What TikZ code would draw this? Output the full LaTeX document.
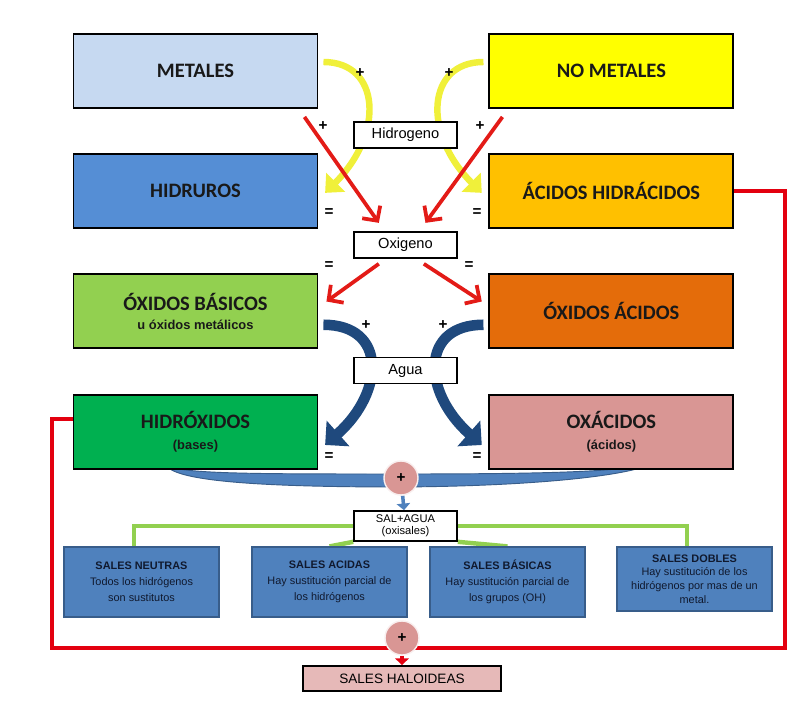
\documentclass[tikz,border=0pt]{standalone}
\usepackage{fontspec}
\setmainfont{Liberation Sans}
\newfontfamily\calib{Carlito}
\usepackage{tikz}
\usetikzlibrary{positioning,arrows.meta,backgrounds}
\definecolor{MetLight}{HTML}{C6D9F1}
\definecolor{NoMetYellow}{HTML}{FFFF00}
\definecolor{HidBlue}{HTML}{558ED5}
\definecolor{HidAcid}{HTML}{FFC000}
\definecolor{OxBas}{HTML}{92D050}
\definecolor{OxAcid}{HTML}{E46C0A}
\definecolor{HidrGreen}{HTML}{00B050}
\definecolor{OxacPink}{HTML}{D99694}
\definecolor{SalBlue}{HTML}{4F81BD}
\definecolor{SalEdge}{HTML}{385D8A}
\definecolor{SalText}{HTML}{10192E}
\definecolor{SalGreen}{HTML}{92D050}
\definecolor{HalPink}{HTML}{E6B9B8}
\definecolor{ArrRed}{HTML}{E31B17}
\definecolor{LoopRed}{HTML}{E3000F}
\definecolor{ArrYellow}{HTML}{F0F03A}
\definecolor{ArrNavy}{HTML}{1F497D}
\newcommand{\boxsub}{\normalfont\bfseries\fontsize{11}{13}\selectfont}

\begin{document}
\begin{tikzpicture}[x=0.03cm, y=-0.03cm, node distance=1.33cm and 5.1cm, every node/.style={font=\small}, big/.style={draw=black, line width=1.6pt, minimum width=7.32cm, minimum height=2.22cm, align=center, text=black!90, font=\calib\bfseries\fontsize{17.5}{20}\selectfont}, tag/.style={draw=black, line width=1.4pt, fill=white, minimum width=3.09cm, minimum height=0.78cm, font=\fontsize{12.5}{14}\selectfont}, sal/.style={draw=SalEdge, line width=1pt, fill=SalBlue, minimum width=4.65cm, minimum height=2.1cm, align=center, text=SalText, font=\fontsize{9.3}{13.5}\selectfont}, pluscirc/.style={circle, fill=OxacPink, draw=white!85!OxacPink, line width=1.2pt, minimum size=1.02cm, font=\bfseries\fontsize{13}{15}\selectfont}, sign/.style={font=\bfseries\fontsize{13}{15}\selectfont}, rarr/.style={draw=ArrRed, line width=3.2pt, -{Straight Barb[length=0.32cm,width=0.66cm]}}, yarr/.style={draw=ArrYellow, line width=5.5pt, -{Triangle[length=0.45cm,width=0.78cm]}}, barr/.style={draw=ArrNavy, line width=9pt, -{Triangle[length=0.52cm,width=1cm]}}, rline/.style={draw=LoopRed, line width=3.6pt}, gline/.style={draw=SalGreen, line width=3.8pt}]
\useasboundingbox (0,0) rectangle (810,703);
% main boxes
\node[big, fill=MetLight] (met) at (195.5,71) {METALES};
\node[big, fill=NoMetYellow, right=of met] (nomet) {NO METALES};
\node[big, fill=HidBlue, below=of met] (hid) {HIDRUROS};
\node[big, fill=HidAcid, below=of nomet] (hac) {ÁCIDOS HIDRÁCIDOS};
\node[big, fill=OxBas, below=of hid] (oxb) {ÓXIDOS BÁSICOS\\[-3pt]{\boxsub u óxidos metálicos}};
\node[big, fill=OxAcid, below=of hac] (oxa) {ÓXIDOS ÁCIDOS};
\node[big, fill=HidrGreen, below=of oxb] (hdx) {HIDRÓXIDOS\\[-2pt]{\boxsub (bases)}};
\node[big, fill=OxacPink, below=of oxa] (oxc) {OXÁCIDOS\\[-2pt]{\boxsub (ácidos)}};
% reagents
\node[tag] (hidro) at (405.5,135) {Hidrogeno};
\node[tag] (oxi) at (405.5,245) {Oxigeno};
\node[tag] (agua) at (405.5,370.5) {Agua};
\node[tag, minimum height=0.9cm, align=center, inner sep=1pt, font=\fontsize{9.5}{10.5}\selectfont] (salag) at (405.5,526) {SAL+AGUA\\(oxisales)};
\node[pluscirc] (c1) at (401,478) {+};
\node[pluscirc] (c2) at (402,638) {+};
% salts
\node[sal] (neu) at (141.5,582) {\textbf{SALES NEUTRAS}\\Todos los hidrógenos\\son sustitutos};
\node[sal] (aci) at (329.5,582) {\textbf{SALES ACIDAS}\\Hay sustitución parcial de\\los hidrógenos};
\node[sal] (bas) at (507.5,582) {\textbf{SALES BÁSICAS}\\Hay sustitución parcial de\\los grupos (OH)};
\node[sal, minimum height=1.92cm, font=\fontsize{9.3}{11.7}\selectfont] (dob) at (694.5,579) {\textbf{SALES DOBLES}\\Hay sustitución de los\\hidrógenos por mas de un\\metal.};
\node[draw=black, line width=1.5pt, fill=HalPink, minimum width=5.94cm, minimum height=0.75cm, font=\fontsize{11.6}{13}\selectfont] (hal) at (402,678.5) {SALES HALOIDEAS};
\coordinate (lb) at (52,648);
\coordinate (rb) at (785,648);
\foreach \sx/\sy/\st [count=\i] in {360/73/+, 449/73/+, 323/126/+, 480/126/+, 366/325/+, 443/325/+, 329/213/=, 477/213/=, 329/266/=, 469/266/=, 329/457/=, 477/457/=}
  \node[sign] (s\i) at (\sx,\sy) {\st};
\begin{scope}[on background layer]
% hydrogen
\draw[yarr] ([xshift=0.15cm,yshift=0.27cm]met.east) .. controls +(1.7cm,0) and +(1.8cm,1.8cm) .. ([xshift=0.2cm,yshift=-0.05cm]hid.east);
\draw[yarr] ([xshift=-0.15cm,yshift=0.27cm]nomet.west) .. controls +(-1.7cm,0) and +(-1.8cm,1.8cm) .. ([xshift=-0.2cm,yshift=-0.05cm]hac.west);
% oxygen
\draw[rarr] ([xshift=-0.42cm,yshift=-0.24cm]met.south east) -- ([xshift=-0.8cm,yshift=0.25cm]oxi.north);
\draw[rarr] ([xshift=0.42cm,yshift=-0.24cm]nomet.south west) -- ([xshift=0.6cm,yshift=0.25cm]oxi.north);
\draw[rarr] ([xshift=-0.8cm,yshift=-0.15cm]oxi.south) -- ([xshift=0.24cm,yshift=-0.84cm]oxb.north east);
\draw[rarr] ([xshift=0.55cm,yshift=-0.15cm]oxi.south) -- ([xshift=-0.2cm,yshift=-0.84cm]oxa.north west);
% water
\draw[barr] ([xshift=0.15cm,yshift=-0.4cm]oxb.east) .. controls +(1.9cm,0) and +(1.8cm,1.6cm) .. ([xshift=0.2cm,yshift=-0.4cm]hdx.east);
\draw[barr] ([xshift=-0.15cm,yshift=-0.4cm]oxa.west) .. controls +(-1.9cm,0) and +(-1.8cm,1.6cm) .. ([xshift=-0.2cm,yshift=-0.4cm]oxc.west);
% bracket
\filldraw[fill=SalBlue, draw=SalEdge, line width=0.8pt] (168,466) .. controls (185,474) and (260,474) .. (400,474) .. controls (540,474) and (620,472) .. (649,464) .. controls (640,472) and (560,486) .. (400,487) .. controls (270,487) and (190,482) .. (170,469) -- cycle;
\draw[draw=SalBlue, line width=3pt, -{Triangle[length=0.2cm,width=0.4cm]}] (c1) -- (salag);
% salts
\draw[gline] (salag.west) -| ([xshift=-0.22cm]neu.north);
\draw[gline] (salag.east) -| ([xshift=-0.22cm]dob.north);
\draw[gline] (salag.south west) -- (aci.north);
\draw[gline] (salag.south east) -- (bas.north);
% haloid loop
\draw[rline] ([yshift=0.39cm]hdx.west) -| (lb) -- (rb) |- (hac.east);
\draw[draw=LoopRed, line width=3pt, -{Triangle[length=0.2cm,width=0.4cm]}] (c2) -- (hal);
\end{scope}
\end{tikzpicture}
\end{document}
